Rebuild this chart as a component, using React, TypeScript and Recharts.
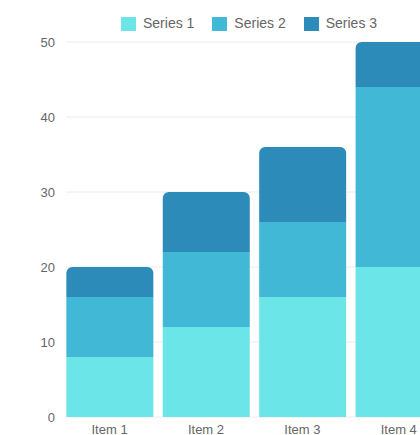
import { BarChart, Bar, XAxis, YAxis, CartesianGrid, Legend } from "recharts";

const items = ["Item 1", "Item 2", "Item 3", "Item 4"];
const series1 = [8, 12, 16, 20];
const series2 = [8, 10, 10, 24];
const series3 = [4, 8, 10, 6];
const yTicks = [0, 10, 20, 30, 40, 50];

const seriesNames = ["Series 1", "Series 2", "Series 3"];
const seriesColors = ["#6CE5E8", "#41B8D5", "#2D8BBA"];

const data = items.map((name, i) => ({
  name,
  s1: series1[i],
  s2: series2[i],
  s3: series3[i],
}));

const font = '"Liberation Sans", Arial, Helvetica, sans-serif';

const LegendRow = () => (
  <div
    style={{
      height: 42,
      boxSizing: "border-box",
      paddingTop: 16,
      paddingLeft: 121,
      display: "flex",
      gap: 18,
      fontFamily: font,
      fontSize: 14,
      color: "#666",
    }}
  >
    {seriesNames.map((s, i) => (
      <div key={s} style={{ display: "flex", alignItems: "center", height: 15 }}>
        <span
          style={{
            width: 15,
            height: 14,
            background: seriesColors[i],
            marginRight: 7,
            display: "inline-block",
          }}
        />
        <span style={{ lineHeight: "15px" }}>{s}</span>
      </div>
    ))}
  </div>
);

export default function App() {
  return (
    <div style={{ width: 420, height: 435, overflow: "hidden", background: "#fff" }}>
      <style>{"body{margin:0}"}</style>
      <BarChart
        width={447}
        height={435}
        data={data}
        margin={{ top: 0, right: 0, bottom: 0, left: 0 }}
      >
        <CartesianGrid vertical={false} stroke="#ececec" />
        <Legend
          verticalAlign="top"
          content={() => <LegendRow />}
          wrapperStyle={{ left: 0, width: 447 }}
        />
        <XAxis
          dataKey="name"
          height={18}
          padding={{ left: -4.65, right: 0 }}
          axisLine={false}
          tickLine={false}
          tick={{ fill: "#666", fontSize: 13, fontFamily: font }}
        />
        <YAxis
          width={66}
          domain={[0, 50]}
          ticks={yTicks}
          axisLine={false}
          tickLine={false}
          tickMargin={5}
          tick={{ fill: "#666", fontSize: 13, fontFamily: font }}
        />
        <Bar dataKey="s1" name={seriesNames[0]} stackId="a" fill={seriesColors[0]} barSize={87} isAnimationActive={false} />
        <Bar dataKey="s2" name={seriesNames[1]} stackId="a" fill={seriesColors[1]} barSize={87} isAnimationActive={false} />
        <Bar
          dataKey="s3"
          name={seriesNames[2]}
          stackId="a"
          fill={seriesColors[2]}
          barSize={87}
          radius={[6, 6, 0, 0]}
          isAnimationActive={false}
        />
      </BarChart>
    </div>
  );
}
